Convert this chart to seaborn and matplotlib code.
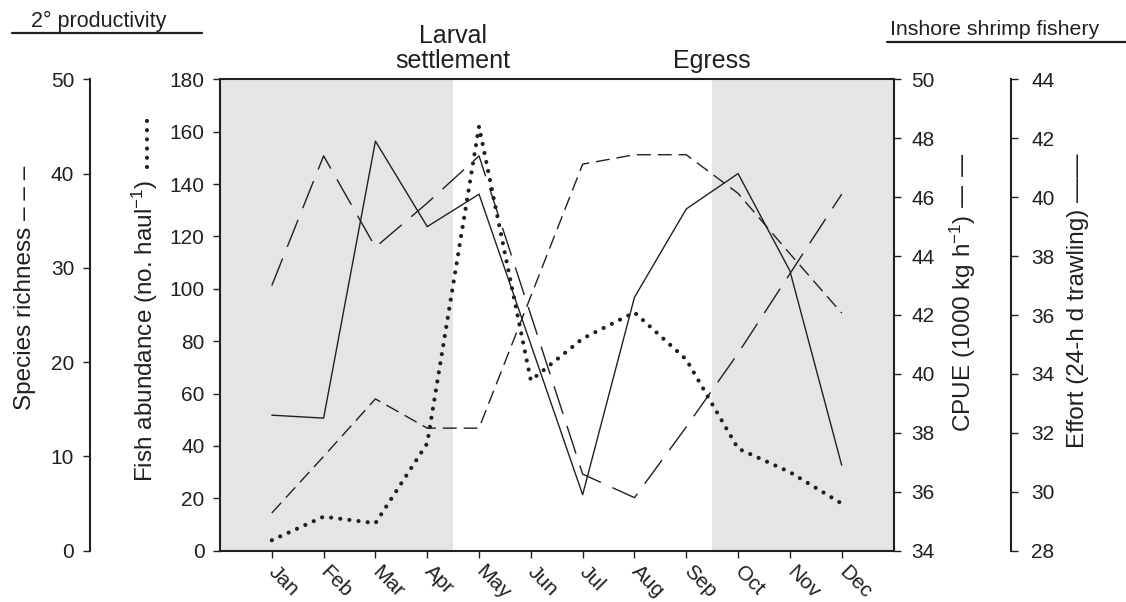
import numpy as np
import pandas as pd
import matplotlib
matplotlib.use("Agg")
import matplotlib.pyplot as plt
from matplotlib.lines import Line2D
import seaborn as sns

# ---------------- data ----------------
months = ["Jan", "Feb", "Mar", "Apr", "May", "Jun",
          "Jul", "Aug", "Sep", "Oct", "Nov", "Dec"]
month_num = list(range(1, 13))
fish_abundance = [4, 13, 10.5, 41, 162, 65, 81, 91, 73, 39, 30, 18]
species_richness = [4.0, 10.0, 16.1, 13.0, 13.0, 27.0, 41.0, 42.0, 42.0, 37.9, 31.5, 25.2]
cpue = [43.0, 47.4, 44.3, 45.8, 47.4, 42.0, 36.6, 35.8, 38.2, 40.7, 43.4, 46.1]
effort = [32.6, 32.5, 41.9, 39.0, 40.1, 35.0, 29.9, 36.6, 39.6, 40.8, 37.5, 30.9]

fish_ticks = list(range(0, 181, 20))
species_ticks = list(range(0, 51, 10))
cpue_ticks = list(range(34, 51, 2))
effort_ticks = list(range(28, 45, 2))

shade_spans = [(0, 4.5), (9.5, 13)]
period_labels = [("Larval\nsettlement", 4.5), ("Egress", 9.5)]

df = pd.DataFrame({"month": month_num, "fish": fish_abundance,
                   "species": species_richness, "cpue": cpue, "effort": effort})

# ---------------- style ----------------
sns.set_style("ticks")
plt.rcParams["font.family"] = ["Liberation Sans", "DejaVu Sans"]
plt.rcParams["mathtext.default"] = "regular"
INK = "#231f20"
SHADE = "#e4e5e7"
DOT_STYLE = dict(color=INK, lw=3.0, linestyle=(0, (0.01, 2.2)),
                 dash_capstyle="round")

W, H = 1126, 602
fig = plt.figure(figsize=(W / 100, H / 100), dpi=100)

def fx(px):
    return px / W

def fy(py):
    return 1 - py / H

L, R, T, B = 220, 893.5, 79.3, 550.7
ax = fig.add_axes([fx(L), fy(B), (R - L) / W, (B - T) / H])
ax_cpue = ax.twinx()
ax_eff = ax.twinx()
ax_sp = ax.twinx()

# shading
for a, b in shade_spans:
    ax.axvspan(a, b, color=SHADE, lw=0, zorder=0)

# lines
sns.lineplot(data=df, x="month", y="fish", ax=ax, zorder=3, **DOT_STYLE)
sns.lineplot(data=df, x="month", y="species", ax=ax_sp, color=INK, lw=1.0,
             linestyle=(0, (10, 5)))
sns.lineplot(data=df, x="month", y="cpue", ax=ax_cpue, color=INK, lw=1.0,
             linestyle=(0, (21, 9)))
sns.lineplot(data=df, x="month", y="effort", ax=ax_eff, color=INK, lw=1.0,
             linestyle="-")

# limits / ticks
ax.set_xlim(0, 13)
ax.set_ylim(0, 180)
ax.set_yticks(fish_ticks)
ax_sp.set_ylim(0, 50)
ax_sp.set_yticks(species_ticks)
ax_cpue.set_ylim(34, 50)
ax_cpue.set_yticks(cpue_ticks)
ax_eff.set_ylim(28, 44)
ax_eff.set_yticks(effort_ticks)

ax.set_xticks(month_num)
ax.set_xticklabels(months, rotation=-45, ha="left", va="center",
                   rotation_mode="anchor")

for a in (ax, ax_sp, ax_cpue, ax_eff):
    a.set_xlabel("")
    a.set_ylabel("")
    a.tick_params(axis="both", direction="out", length=5, width=1.0,
                  color=INK, labelcolor=INK, labelsize=15, pad=6)
ax.tick_params(axis="x", pad=8)
ax_cpue.tick_params(axis="y", pad=8)
ax_eff.tick_params(axis="y", pad=10)

# spines
for a in (ax, ax_sp, ax_cpue, ax_eff):
    for s in a.spines.values():
        s.set_linewidth(1.5)
        s.set_color(INK)
ax.spines["right"].set_visible(False)
for s in ("top", "bottom", "left"):
    ax_cpue.spines[s].set_visible(False)
    ax_eff.spines[s].set_visible(False)
for s in ("top", "bottom", "right"):
    ax_sp.spines[s].set_visible(False)

ax_sp.yaxis.tick_left()
ax_sp.yaxis.set_label_position("left")
ax_sp.spines["left"].set_visible(True)
ax_sp.spines["left"].set_position(("axes", (89.5 - L) / (R - L)))
ax_eff.spines["right"].set_position(("axes", (1010.5 - L) / (R - L)))

# period labels above the plot
for txt, xpos in period_labels:
    ax.annotate(txt, xy=(xpos, 1.0), xycoords=("data", "axes fraction"),
                xytext=(0, 8), textcoords="offset points", ha="center",
                va="baseline", fontsize=18, color=INK, linespacing=1.05,
                annotation_clip=False)

# axis titles
fig.text(fx(25), fy(287.5), "Species richness \u2013 \u2013 \u2013", rotation=90,
         ha="center", va="center", fontsize=17.5, color=INK)
fig.text(fx(145), fy(481.7), "Fish abundance (no. haul$^{-1}$)",
         rotation=90, ha="center", va="bottom", fontsize=17.5, color=INK)
fig.add_artist(Line2D([fx(146.5), fx(146.5)], [fy(167), fy(113)],
                      transform=fig.transFigure, **DOT_STYLE))
fig.text(fx(963), fy(292.5), "CPUE (1000 kg h$^{-1}$) \u2014 \u2014", rotation=90,
         ha="center", va="center", fontsize=17.5, color=INK)
fig.text(fx(1078), fy(300.5), "Effort (24-h d trawling) \u2014\u2014", rotation=90,
         ha="center", va="center", fontsize=17.5, color=INK)

# group headers
fig.text(fx(31), fy(26.7), "2\u00b0 productivity", ha="left", va="baseline",
         fontsize=15.5, color=INK)
fig.add_artist(Line2D([fx(11.7), fx(201.7)], [fy(33.3), fy(33.3)],
                      transform=fig.transFigure, color=INK, lw=1.6))
fig.text(fx(890), fy(35), "Inshore shrimp fishery", ha="left", va="baseline",
         fontsize=15.3, color=INK)
fig.add_artist(Line2D([fx(886.7), fx(1126)], [fy(42.3), fy(42.3)],
                      transform=fig.transFigure, color=INK, lw=1.6))

fig.savefig("out.png", dpi=100)
